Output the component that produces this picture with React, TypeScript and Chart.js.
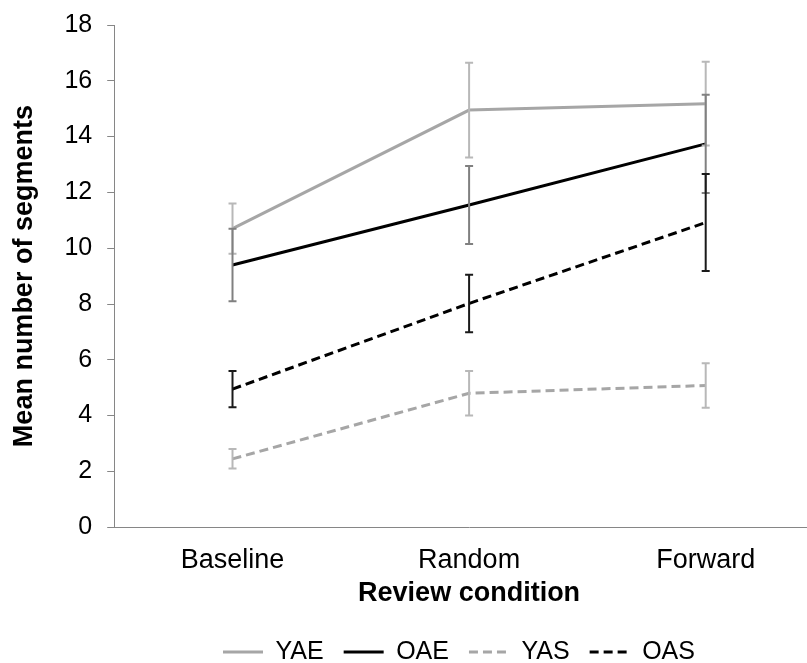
import React, { useEffect, useRef } from "react";
import { Chart, registerables } from "chart.js";

Chart.register(...registerables);

const categories = ["Baseline", "Random", "Forward"];
const seriesNames = ["YAE", "OAE", "YAS", "OAS"];
const yaeMeans = [10.7, 14.95, 15.18];
const yaeErrors = [0.9, 1.7, 1.5];
const oaeMeans = [9.4, 11.55, 13.74];
const oaeErrors = [1.3, 1.4, 1.76];
const yasMeans = [2.45, 4.8, 5.08];
const yasErrors = [0.35, 0.8, 0.8];
const oasMeans = [4.95, 8.02, 10.92];
const oasErrors = [0.65, 1.03, 1.74];
const yMin = 0;
const yMax = 18;
const yStep = 2;
const xTitle = "Review condition";
const yTitle = "Mean number of segments";

const FONT = "'Liberation Sans', Arial, Helvetica, sans-serif";
const AXIS_COLOR = "#868686";

const errorBarPlugin = {
  id: "errorBars",
  afterDatasetsDraw(chart: any) {
    const ctx = chart.ctx;
    const yScale = chart.scales.y;
    chart.data.datasets.forEach((ds: any, i: number) => {
      const meta = chart.getDatasetMeta(i);
      if (meta.hidden) return;
      ctx.save();
      ctx.strokeStyle = ds.errorColor;
      ctx.lineWidth = 2;
      ctx.setLineDash([]);
      ctx.lineCap = "butt";
      meta.data.forEach((pt: any, j: number) => {
        const v = ds.data[j];
        const e = ds.errors[j];
        const x = pt.x;
        const yt = yScale.getPixelForValue(v + e);
        const yb = yScale.getPixelForValue(v - e);
        ctx.beginPath();
        ctx.moveTo(x, yt);
        ctx.lineTo(x, yb);
        ctx.moveTo(x - 4, yt);
        ctx.lineTo(x + 4, yt);
        ctx.moveTo(x - 4, yb);
        ctx.lineTo(x + 4, yb);
        ctx.stroke();
      });
      ctx.restore();
    });
  },
};

const legendShiftPlugin = {
  id: "legendShift",
  afterLayout(chart: any) {
    const lg = chart.legend;
    if (!lg || !lg.lineWidths) return;
    const pad = lg.options.labels.padding;
    const defaultX = (lg.left + pad + lg.right - lg.lineWidths[0]) / 2;
    const dx = 223 - defaultX;
    lg.left += dx;
    lg.right += dx;
    const fontSize = lg.options.labels.font.size;
    const dy = 652 - (lg.top + pad + fontSize / 2);
    lg.top += dy;
    lg.bottom += dy;
  },
};

export default function App() {
  const canvasRef = useRef<HTMLCanvasElement | null>(null);

  useEffect(() => {
    if (!canvasRef.current) return;
    const mk = (
      label: string,
      data: number[],
      errors: number[],
      color: string,
      errorColor: string,
      dash: number[]
    ) => ({
      label,
      data,
      errors,
      errorColor,
      borderColor: color,
      backgroundColor: color,
      borderWidth: 3,
      borderDash: dash,
      pointRadius: 0,
      pointHoverRadius: 0,
      fill: false,
      tension: 0,
    });

    const defaultGen = (Chart as any).defaults.plugins.legend.labels.generateLabels;

    const chart = new Chart(canvasRef.current, {
      type: "line",
      data: {
        labels: categories,
        datasets: [
          mk(seriesNames[0], yaeMeans, yaeErrors, "#a6a6a6", "#b8b8b8", []),
          mk(seriesNames[1], oaeMeans, oaeErrors, "#000000", "#808080", []),
          mk(seriesNames[2], yasMeans, yasErrors, "#a6a6a6", "#b8b8b8", [9, 5]),
          mk(seriesNames[3], oasMeans, oasErrors, "#000000", "#1a1a1a", [9, 5]),
        ] as any,
      },
      options: {
        animation: false,
        responsive: true,
        maintainAspectRatio: false,
        layout: { padding: { top: 24, right: 0, bottom: -2, left: 0 } },
        plugins: {
          tooltip: { enabled: false },
          legend: {
            position: "bottom",
            labels: {
              usePointStyle: true,
              pointStyle: "line",
              pointStyleWidth: 40,
              padding: 20,
              color: "#000",
              font: { family: FONT, size: 25 },
              generateLabels: (c: any) => {
                const items = defaultGen(c);
                items.forEach((it: any) => {
                  const ds = c.data.datasets[it.datasetIndex];
                  it.lineDash = ds.borderDash;
                  it.lineWidth = ds.borderWidth;
                  it.strokeStyle = ds.borderColor;
                  it.fillStyle = ds.borderColor;
                  it.lineCap = "butt";
                });
                return items;
              },
            },
          },
        },
        scales: {
          x: {
            type: "category",
            offset: true,
            grid: { display: false, drawTicks: false },
            border: { display: true, color: AXIS_COLOR, width: 1 },
            ticks: {
              color: "#000",
              padding: 17,
              maxRotation: 0,
              font: { family: FONT, size: 27 },
            },
            title: {
              display: true,
              text: xTitle,
              color: "#000",
              padding: { top: -16, bottom: 0 },
              font: { family: FONT, size: 27, weight: "bold" },
            },
          },
          y: {
            min: yMin,
            max: yMax,
            grid: {
              display: true,
              drawOnChartArea: false,
              drawTicks: true,
              tickLength: 7,
              color: AXIS_COLOR,
            },
            border: { display: true, color: AXIS_COLOR, width: 1 },
            ticks: {
              stepSize: yStep,
              color: "#000",
              padding: 15,
              font: { family: FONT, size: 25, lineHeight: 0.8 },
            },
            title: {
              display: true,
              text: yTitle,
              color: "#000",
              padding: { top: 8, bottom: 9 },
              font: { family: FONT, size: 27, weight: "bold" },
            },
          },
        },
      },
      plugins: [errorBarPlugin, legendShiftPlugin],
    });
    return () => chart.destroy();
  }, []);

  return (
    <div
      style={{
        position: "fixed",
        left: 0,
        top: 0,
        width: 807,
        height: 663,
        overflow: "hidden",
        background: "#fff",
      }}
    >
      <div style={{ position: "relative", width: 824, height: 663 }}>
        <canvas ref={canvasRef} />
      </div>
    </div>
  );
}
